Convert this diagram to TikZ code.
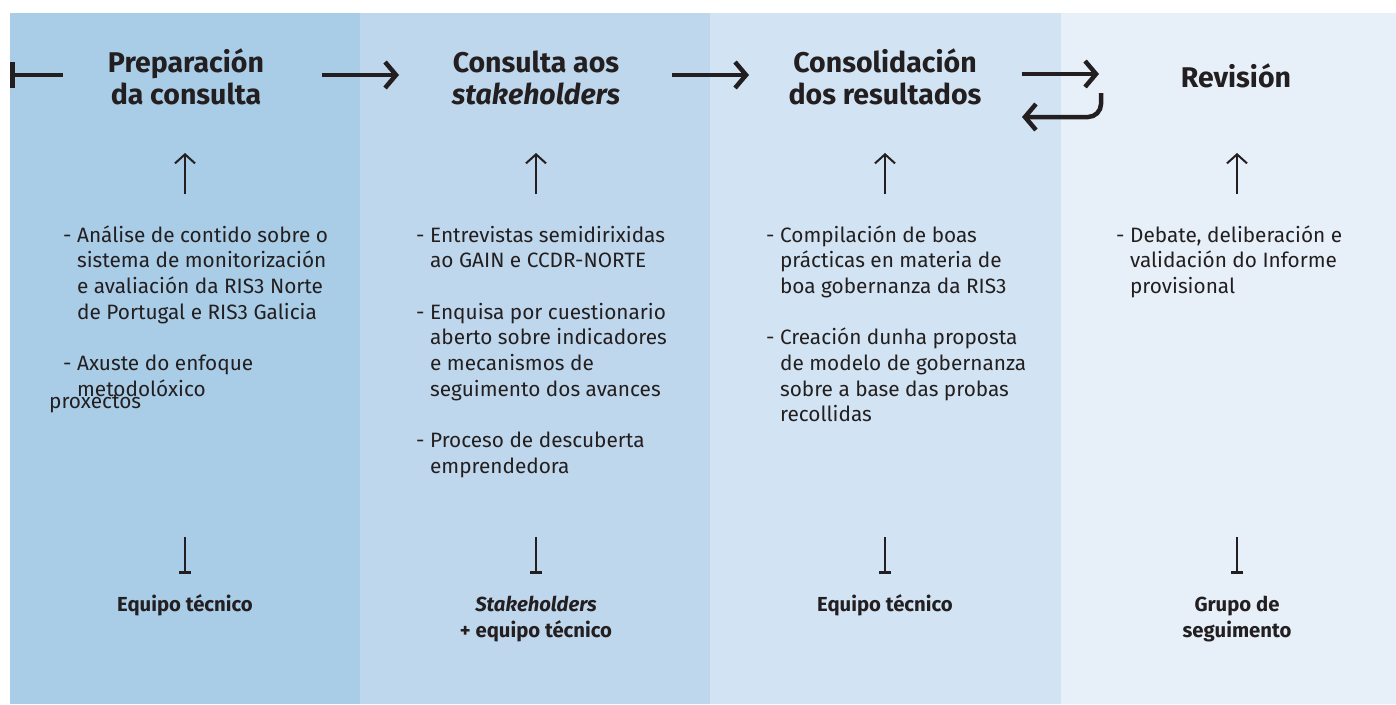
\documentclass[tikz,border=0pt]{standalone}
\usepackage{fontspec}
\setmainfont{Fira Sans}
\usetikzlibrary{arrows.meta}
\definecolor{colA}{HTML}{A9CCE7}
\definecolor{colB}{HTML}{BFD7EC}
\definecolor{colC}{HTML}{D2E4F3}
\definecolor{colD}{HTML}{E7F0F9}
\definecolor{ink}{HTML}{231F20}
\tikzset{
  title/.style={font=\fontsize{28.5}{32}\selectfont\bfseries, text=ink, align=center, inner sep=0pt, anchor=base},
  body/.style={font=\fontsize{20.8}{25.7}\selectfont, text=ink, align=left, anchor=base west, inner sep=0pt},
  who/.style={font=\fontsize{20.3}{26}\selectfont\bfseries, text=ink, align=center, inner sep=0pt, anchor=base},
  flow/.style={line width=4.5pt, draw=ink, -{Straight Barb[length=11pt,width=26pt]}},
  upar/.style={line width=2pt, draw=ink, -{Straight Barb[length=9pt,width=20pt]}},
  tee/.style={line width=2pt, draw=ink, -{Bar[width=12pt,line width=3pt]}},
}
\newcommand{\ind}{\phantom{- }}
\begin{document}
\begin{tikzpicture}[x=1pt,y=-1pt]
\useasboundingbox (0,0) rectangle (1396,704);
\fill[white] (0,0) rectangle (1396,704);
\fill[colA] (10,13) rectangle (360,704);
\fill[colB] (360,13) rectangle (710,704);
\fill[colC] (710,13) rectangle (1061,704);
\fill[colD] (1061,13) rectangle (1396,704);

% titles (anchor = baseline of last line)
\node[title] (t1) at (186,104) {Preparación\\da consulta};
\node[title] (t2) at (536,104) {Consulta aos\\\textit{stakeholders}};
\node[title] (t3) at (885,104) {Consolidación\\dos resultados};
\node[title] (t4) at (1236,87) {Revisión};

% flow arrows
\coordinate (s0) at (10,75);
\coordinate (s1) at (63,75);
\draw[line width=4.5pt, draw=ink, {Bar[width=26pt,line width=4.5pt]}-] (s0) -- (s1);
\coordinate (a1s) at (322,75); \coordinate (a1e) at (399,75);
\draw[flow] (a1s) -- (a1e);
\coordinate (a2s) at (672,75); \coordinate (a2e) at (749,75);
\draw[flow] (a2s) -- (a2e);
\coordinate (a3s) at (1022,74); \coordinate (a3e) at (1099,74);
\draw[flow] (a3s) -- (a3e);
\coordinate (r1) at (1101,93); \coordinate (r2) at (1101,117); \coordinate (r3) at (1022,117);
\draw[flow, rounded corners=13pt] (r1) -- (r2) -- (r3);

% up arrows and tees
\foreach \x/\n in {185/1,536/2,885/3,1237/4}{
  \coordinate (u\n b) at (\x,194);
  \coordinate (u\n t) at (\x,153);
  \draw[upar] (u\n b) -- (u\n t);
  \coordinate (d\n t) at (\x,537);
  \coordinate (d\n b) at (\x,574);
  \draw[tee] (d\n t) -- (d\n b);
}

% body texts (anchor = baseline of last line)
\node[body] (b1) at (63,396.2) {- Análise de contido sobre o\\\ind sistema de monitorización\\\ind e avaliación da RIS3 Norte\\\ind de Portugal e RIS3 Galicia\\[25.7pt]- Axuste do enfoque\\\ind metodolóxico};
\node[body] (px) at (49,408) {proxectos};
\node[body] (b2) at (416,473.3) {- Entrevistas semidirixidas\\\ind ao GAIN e CCDR-NORTE\\[25.7pt]- Enquisa por cuestionario\\\ind aberto sobre indicadores\\\ind e mecanismos de\\\ind seguimento dos avances\\[25.7pt]- Proceso de descuberta\\\ind emprendedora};
\node[body] (b3) at (766,421.9) {- Compilación de boas\\\ind prácticas en materia de\\\ind boa gobernanza da RIS3\\[25.7pt]- Creación dunha proposta\\\ind de modelo de gobernanza\\\ind sobre a base das probas\\\ind recollidas};
\node[body] (b4) at (1116,293.4) {- Debate, deliberación e\\\ind validación do Informe\\\ind provisional};

% bottom labels
\node[who] (w1) at (185,611) {Equipo técnico};
\node[who] (w2) at (536,637) {\textit{Stakeholders}\\+ equipo técnico};
\node[who] (w3) at (885,611) {Equipo técnico};
\node[who] (w4) at (1237,637) {Grupo de\\seguimento};
\end{tikzpicture}
\end{document}
